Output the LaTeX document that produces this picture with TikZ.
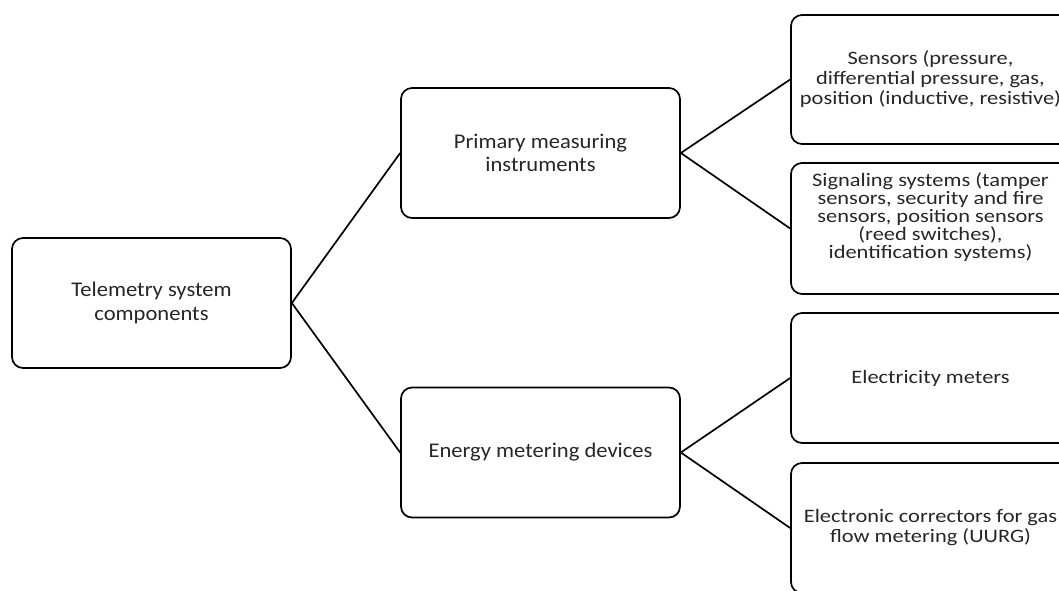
\documentclass[tikz,border=0pt]{standalone}
\usepackage{fontspec}
\setmainfont{Carlito}[FakeStretch=1.18]
\newfontfamily\mainfam{Carlito}[FakeStretch=1.08]
\begin{document}
\begin{tikzpicture}[x=1pt,y=-1pt,
  box/.style={draw=black, line width=1.7pt, rounded corners=11pt, minimum width=279pt, inner sep=0pt},
  txt/.style={align=center, inner sep=0pt, text=black!85},
  big/.style={font=\mainfam\fontsize{20.9}{23.5}\selectfont},
  mid/.style={font=\fontsize{19}{20}\selectfont},
  small/.style={font=\fontsize{19}{18}\selectfont},
  link/.style={line width=1.7pt}]
\useasboundingbox (0,0) rectangle (1059,590);
\clip (0,0) rectangle (1059,590);
% boxes
\node[box, minimum height=130pt] (root) at (151.5,303) {};
\node[box, minimum height=130pt] (prim) at (540.5,153) {};
\node[box, minimum height=130pt] (ener) at (540.5,452.5) {};
\node[box, minimum height=129pt] (sens) at (930.5,79.5) {};
\node[box, minimum height=131pt] (sign) at (930.5,228.5) {};
\node[box, minimum height=130pt] (elec) at (930.5,378) {};
\node[box, minimum height=130pt] (corr) at (930.5,528) {};
% texts
\node[txt, big] (troot) at (root.center) {Telemetry system\\components};
\node[txt, big] (tprim) at (prim.center) {Primary measuring\\instruments};
\node[txt, big] (tener) at (ener.center) {Energy metering devices};
\node[txt, mid] (tsens) at (930.5,79) {Sensors (pressure,\\differential pressure, gas,\\position (inductive, resistive)};
\node[txt, small] (tsign) at (930.5,217.5) {Signaling systems (tamper\\sensors, security and fire\\sensors, position sensors\\(reed switches),\\identification systems)};
\node[txt, mid] (telec) at (elec.center) {Electricity meters};
\node[txt, mid] (tcorr) at (930.5,527.5) {Electronic correctors for gas\\flow metering (UURG)};
% connectors
\draw[link] (root.east) -- (prim.west);
\draw[link] (root.east) -- (ener.west);
\draw[link] (prim.east) -- (sens.west);
\draw[link] (prim.east) -- (sign.west);
\draw[link] (ener.east) -- (elec.west);
\draw[link] (ener.east) -- (corr.west);
\end{tikzpicture}
\end{document}
